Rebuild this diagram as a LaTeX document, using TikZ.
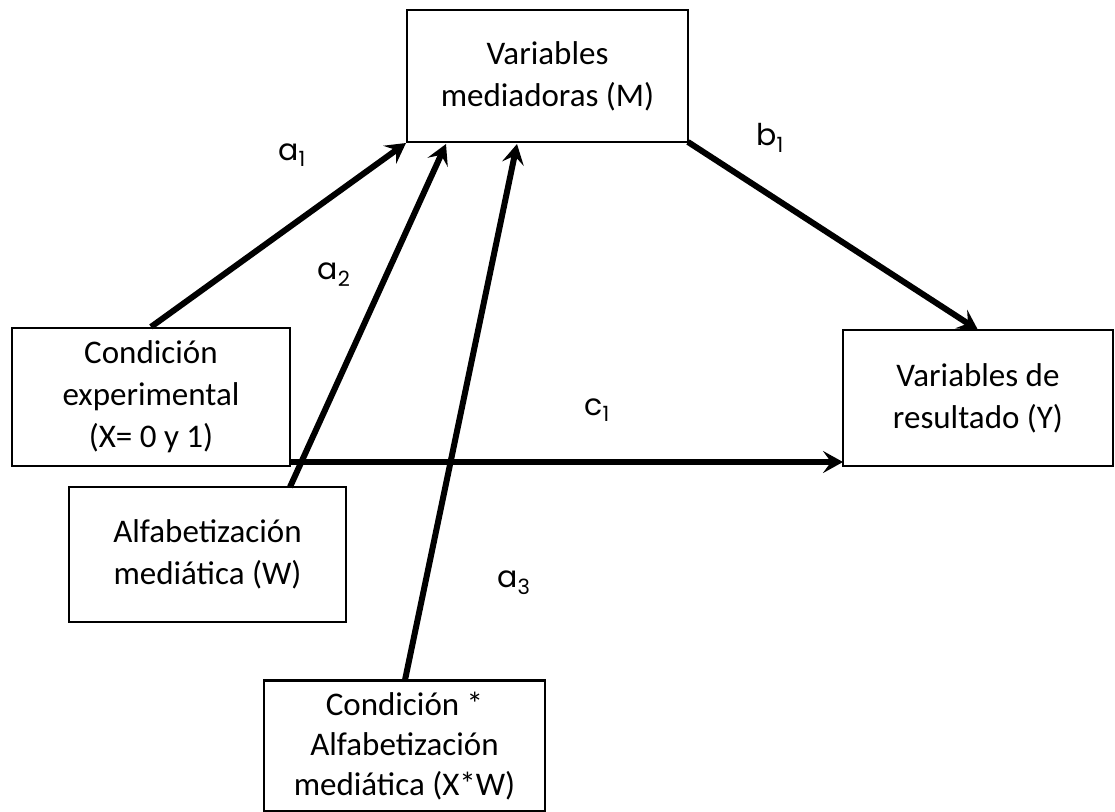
\documentclass[tikz,border=0pt]{standalone}
\usepackage{fontspec}
\setmainfont{Carlito}
\newfontfamily\lblfont{Poppins}
\usetikzlibrary{arrows.meta}

\begin{document}
\begin{tikzpicture}[x=1pt, y=-1pt,
  varbox/.style={draw, line width=2.2pt, align=center, inner sep=0pt,
                 font=\fontsize{33}{42}\selectfont},
  coef/.style={font=\lblfont\fontsize{30}{34}\selectfont},
  effect/.style={line width=6pt, -{Stealth[length=20pt, width=22pt, inset=8pt]}}]
\useasboundingbox (0,0) rectangle (1115,811);
\node[varbox, minimum width=281pt, minimum height=132pt] (med) at (547.5,76)  {Variables\\mediadoras (M)};
\node[varbox, minimum width=278pt, minimum height=138pt] (cond) at (151,397)  {Condición\\experimental\\(X= 0 y 1)};
\node[varbox, minimum width=270pt, minimum height=136pt] (res) at (978,398)   {Variables de\\resultado (Y)};
\node[varbox, minimum width=277pt, minimum height=135pt] (alfa) at (207.5,554.5) {Alfabetización\\mediática (W)};
\node[varbox, minimum width=281pt, minimum height=131pt, font=\fontsize{33}{40}\selectfont] (inter) at (404.5,746) {Condición *\\Alfabetización\\mediática (X*W)};
% puntos de llegada y salida
\coordinate (med-a1) at (406,143);
\coordinate (med-a2) at (446,144);
\coordinate (med-a3) at (517,144);
\coordinate (alfa-top) at (290,487);
\coordinate (inter-top) at (405,680);
\coordinate (med-b1) at (688,142);
\coordinate (res-b1) at (978,330);
\coordinate (cond-c1) at (290,462);
\coordinate (res-c1) at (843,462);
\path[effect]
    (cond.north) edge (med-a1)
    (alfa-top)   edge (med-a2)
    (inter-top)  edge (med-a3)
    (med-b1)     edge (res-b1)
    (cond-c1)    edge (res-c1)
; %-path-%
\node[coef] (a1) at (292,155) {a\textsubscript{1}};
\node[coef] (a2) at (334,275) {a\textsubscript{2}};
\node[coef] (a3) at (514,583) {a\textsubscript{3}};
\node[coef] (b1) at (770,138) {b\textsubscript{1}};
\node[coef] (c1) at (597,410) {c\textsubscript{1}};
\end{tikzpicture}
\end{document}
